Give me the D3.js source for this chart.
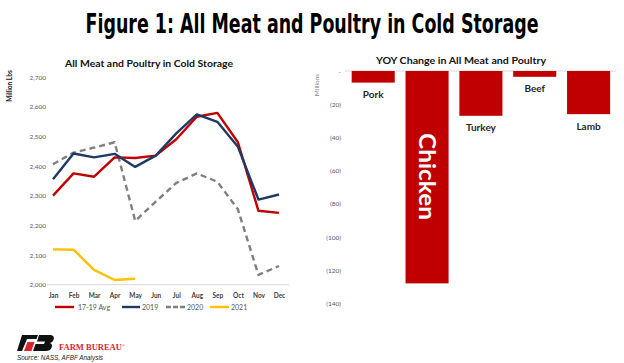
<!DOCTYPE html>
<html><head><meta charset="utf-8">
<script src="https://cdn.jsdelivr.net/npm/d3@7"></script>
<style>
body{margin:0;background:#fff;}
svg{display:block;}
</style></head>
<body>
<svg id="c" width="624" height="363"></svg>
<script>
const months = ["Jan","Feb","Mar","Apr","May","Jun","Jul","Aug","Sep","Oct","Nov","Dec"];
const avg1719 = [2300,2375,2364,2429,2427,2435,2490,2566,2579,2480,2249,2242];
const y2019 = [2355,2442,2429,2441,2397,2435,2510,2574,2549,2465,2287,2304];
const y2020 = [2406,2445,2462,2480,2215,2280,2343,2375,2347,2254,2033,2063];
const y2021 = [2119,2118,2050,2016,2020];
const leftTicks = [2000,2100,2200,2300,2400,2500,2600,2700];

const meats = ["Pork","Chicken","Turkey","Beef","Lamb"];
const yoy = [-7,-128,-27,-3.5,-26];
const rightTicks = [0,-20,-40,-60,-80,-100,-120,-140];

const svg = d3.select("#c");
const F = "Lato, 'Open Sans', sans-serif";

// Title (natural glyphs, then horizontally scaled to the reference width)
const title = svg.append("text").attr("x",0).attr("y",0).attr("text-anchor","middle")
  .attr("font-family","'DejaVu Sans Condensed','Liberation Sans Narrow','Liberation Sans',sans-serif")
  .attr("font-weight","bold").attr("font-size",27).attr("fill","#000")
  .text("Figure 1: All Meat and Poultry in Cold Storage");
const tw = title.node().getComputedTextLength();
title.attr("transform",`translate(312,33) scale(${453/tw},1)`);

// ---------- Left chart ----------
const x = d3.scalePoint().domain(months).range([53,279]);
const y = d3.scaleLinear().domain([2000,2700]).range([284.7,77]);

svg.append("text").attr("x",149).attr("y",67).attr("text-anchor","middle")
  .attr("font-family",F).attr("font-weight","bold").attr("font-size",9.5).attr("fill","#111")
  .attr("textLength",168).attr("lengthAdjust","spacingAndGlyphs")
  .text("All Meat and Poultry in Cold Storage");

svg.append("text").attr("transform","translate(12,86) rotate(-90)").attr("text-anchor","middle")
  .attr("font-family",F).attr("font-weight","bold").attr("font-size",6.5).attr("fill","#111")
  .text("Million Lbs");

const yAx = svg.append("g").attr("transform","translate(46,0)")
  .call(d3.axisLeft(y).tickValues(leftTicks).tickFormat(d3.format(",")).tickSize(0).tickPadding(0));
yAx.select(".domain").remove();
yAx.selectAll("text").attr("font-family",F).attr("font-size",6.5).attr("fill","#595959");

const xAx = svg.append("g").attr("transform","translate(0,284.7)")
  .call(d3.axisBottom(x).tickSize(0).tickPadding(9));
xAx.select(".domain").attr("d","M47,0H289").attr("stroke","#d9d9d9").attr("stroke-width",1);
xAx.selectAll("text").attr("font-family",F).attr("font-weight","bold").attr("font-size",6.5).attr("fill","#404040");

const line = d3.line().x((d,i)=>x(months[i])).y(d=>y(d));
const series = [
  {name:"17-19 Avg", vals:avg1719, color:"#C00000", dash:null},
  {name:"2019", vals:y2019, color:"#1F3864", dash:null},
  {name:"2020", vals:y2020, color:"#7F7F7F", dash:"6,4"},
  {name:"2021", vals:y2021, color:"#FFC000", dash:null}
];
const drawOrder = [2,3,0,1];
drawOrder.forEach(k=>{
  const s = series[k];
  svg.append("path").datum(s.vals).attr("d",line).attr("fill","none")
    .attr("stroke",s.color).attr("stroke-width",2.4).attr("stroke-linejoin","round")
    .attr("stroke-dasharray",s.dash);
});

// Legend
const legX = [55,122,166,210];
const legW = [19,18,19,19];
series.forEach((s,i)=>{
  svg.append("line").attr("x1",legX[i]).attr("x2",legX[i]+legW[i]).attr("y1",307).attr("y2",307)
    .attr("stroke",s.color).attr("stroke-width",2.4).attr("stroke-dasharray",s.dash?"5,2":null);
  svg.append("text").attr("x",legX[i]+legW[i]+(i===0?4:2)).attr("y",309.5)
    .attr("font-family",F).attr("font-size",7).attr("fill","#595959").text(s.name);
});

// ---------- Right chart ----------
const xb = d3.scaleBand().domain(meats).range([346.3,615.5]).paddingInner(0.2).paddingOuter(0.1);
const yb = d3.scaleLinear().domain([0,-140]).range([71,303.3]);

svg.append("text").attr("x",461).attr("y",64).attr("text-anchor","middle")
  .attr("font-family",F).attr("font-weight","bold").attr("font-size",9.5).attr("fill","#111")
  .attr("textLength",170).attr("lengthAdjust","spacingAndGlyphs")
  .text("YOY Change in All Meat and Poultry");

svg.append("text").attr("transform","translate(319,85) rotate(-90)").attr("text-anchor","middle")
  .attr("font-family",F).attr("font-size",6.5).attr("fill","#7f7f7f").text("Millions");

const ybAx = svg.append("g").attr("transform","translate(341,0)")
  .call(d3.axisLeft(yb).tickValues(rightTicks).tickSize(0).tickPadding(0)
    .tickFormat(d=> d===0 ? "-" : "(" + Math.abs(d) + ")"));
ybAx.select(".domain").remove();
ybAx.selectAll("text").attr("font-family",F).attr("font-size",6.5).attr("fill","#595959");

svg.append("line").attr("x1",345).attr("x2",616).attr("y1",yb(0)).attr("y2",yb(0))
  .attr("stroke","#d9d9d9").attr("stroke-width",1);

svg.selectAll("rect.bar").data(meats).enter().append("rect").attr("class","bar")
  .attr("x",d=>xb(d)).attr("width",xb.bandwidth())
  .attr("y",yb(0)).attr("height",(d,i)=>yb(yoy[i])-yb(0))
  .attr("fill","#C00000");

meats.forEach((m,i)=>{
  if(m==="Chicken"){
    svg.append("text").attr("transform",`translate(${xb(m)+xb.bandwidth()/2-8},133) rotate(90)`)
      .attr("font-family",F).attr("font-weight","bold").attr("font-size",22).attr("fill","#fff")
      .attr("textLength",87).attr("lengthAdjust","spacingAndGlyphs").text(m);
  } else {
    svg.append("text").attr("x",xb(m)+xb.bandwidth()/2).attr("y",yb(yoy[i])+15.5)
      .attr("text-anchor","middle").attr("font-family",F).attr("font-weight","bold")
      .attr("font-size",10).attr("fill","#262626").text(m);
  }
});

// ---------- Footer ----------
const logo = svg.append("g");
logo.append("path").attr("d","M22,335 L38,335 L36.5,339 L27,339 L26,341.5 L22,351 L17,351 Z").attr("fill","#111");
logo.append("path").attr("d","M27.5,342 L34.5,342 L31.5,351 L24,351 Z").attr("fill","#d7262e");
logo.append("path").attr("d","M39,335 L51,335 Q55,336 53.5,340 Q52.5,342.5 50,343 Q53,344 51.5,348 Q50,351 46,351 L33,351 L35.5,344 L44,344 L45,341.5 L37,341.5 Z").attr("fill","#111");
const fb = svg.append("text").attr("x",59).attr("y",350).attr("font-family","'Liberation Serif',serif")
  .attr("font-weight","bold").attr("font-size",8.5).attr("fill","#d7262e");
fb.append("tspan").text("FARM BUREAU");
fb.append("tspan").attr("font-size",4).attr("font-weight","normal").attr("dy",-3).text("®");
svg.append("text").attr("x",17).attr("y",360).attr("font-family","'Liberation Sans',sans-serif")
  .attr("font-style","italic").attr("font-size",7.5).attr("fill","#222")
  .attr("textLength",86).attr("lengthAdjust","spacingAndGlyphs").text("Source: NASS, AFBF Analysis");
</script>
</body></html>
